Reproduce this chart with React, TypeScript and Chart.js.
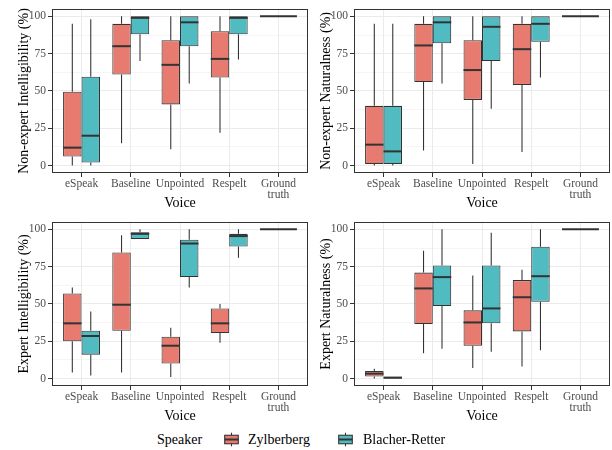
import React, { useEffect, useRef } from "react";
import { Chart, registerables } from "chart.js";

Chart.register(...registerables);

// ---------------- data ----------------
const categories: (string | string[])[] = ["eSpeak", "Baseline", "Unpointed", "Respelt", ["Ground", "truth"]];
const speakers = ["Zylberberg", "Blacher-Retter"];
const yTickValues = [0, 12.5, 25, 37.5, 50, 62.5, 75, 87.5, 100];
const yMajorTicks = [0, 25, 50, 75, 100];

// each entry: [min, q1, median, q3, max] for eSpeak, Baseline, Unpointed, Respelt
const nonExpertIntelZylberberg = [[0, 6, 12, 49.5, 95], [15, 61, 80, 95, 100], [11, 41, 67.5, 84, 100], [22, 59, 71.5, 90, 100]];
const nonExpertIntelBlacher = [[0, 2, 20, 59.5, 98], [70, 88, 99, 100, 100], [55, 80, 96, 100, 100], [71, 88, 99, 100, 100]];

const nonExpertNatZylberberg = [[0, 1, 14, 40, 95], [10, 56, 80.5, 95, 100], [1, 44, 64, 84, 100], [9, 54, 78, 95, 100]];
const nonExpertNatBlacher = [[0, 1, 9.5, 40, 95], [55, 82, 96, 100, 100], [38, 70, 93, 100, 100], [59, 83, 95, 100, 100]];

const expertIntelZylberberg = [[4, 25, 37, 57, 61], [4, 32, 49.5, 84.5, 96], [1, 10, 22, 28, 34], [24, 30.5, 37, 47, 50]];
const expertIntelBlacher = [[2, 16, 28.5, 32, 45], [93.5, 93.5, 97, 98, 100], [61, 68, 90.5, 93, 100], [81, 88.5, 95.5, 97, 100]];

const expertNatZylberberg = [[0, 1.3, 3.3, 5, 6.6], [17, 36.5, 60.4, 71, 85.7], [7, 22, 37.6, 45.7, 69], [8, 31.6, 54.5, 66, 73]];
const expertNatBlacher = [[0, 0, 0.5, 1.3, 1.3], [20, 48.6, 68, 75.8, 100], [18, 37, 47, 75.8, 97.8], [19, 51.4, 68.6, 88.4, 100]];

// Ground truth (single box, all at 100)
const groundTruth = [100, 100, 100, 100, 100];
const groundTruthIndex = 4;

// ---------------- styling ----------------
const FONT = "'Liberation Serif', 'Times New Roman', serif";
const FILL_Z = "#E77B70";
const FILL_B = "#50BCC2";
const DARK = "#333333";
const GRID = "#EBEBEB";
const TICK_TEXT = "#4D4D4D";

const boxPlugin = {
  id: "boxWhiskers",
  beforeDatasetsDraw(chart: any) {
    const ctx = chart.ctx;
    const y = chart.scales.y;
    ctx.save();
    ctx.strokeStyle = DARK;
    ctx.lineWidth = 1.07;
    chart.data.datasets.forEach((ds: any, di: number) => {
      const meta = chart.getDatasetMeta(di);
      meta.data.forEach((el: any, j: number) => {
        const s = ds.stats[j];
        if (!s) return;
        ctx.beginPath();
        ctx.moveTo(el.x, y.getPixelForValue(s[3]));
        ctx.lineTo(el.x, y.getPixelForValue(s[4]));
        ctx.moveTo(el.x, y.getPixelForValue(s[1]));
        ctx.lineTo(el.x, y.getPixelForValue(s[0]));
        ctx.stroke();
      });
    });
    ctx.restore();
  },
  afterDatasetsDraw(chart: any) {
    const ctx = chart.ctx;
    const y = chart.scales.y;
    ctx.save();
    ctx.strokeStyle = DARK;
    ctx.lineWidth = 2;
    chart.data.datasets.forEach((ds: any, di: number) => {
      const meta = chart.getDatasetMeta(di);
      meta.data.forEach((el: any, j: number) => {
        const s = ds.stats[j];
        if (!s) return;
        const py = y.getPixelForValue(s[2]);
        ctx.beginPath();
        ctx.moveTo(el.x - el.width / 2, py);
        ctx.lineTo(el.x + el.width / 2, py);
        ctx.stroke();
      });
    });
    const a = chart.chartArea;
    ctx.lineWidth = 1;
    ctx.strokeStyle = DARK;
    ctx.strokeRect(Math.round(a.left) + 0.5, Math.round(a.top) + 0.5, Math.round(a.right - a.left) - 1, Math.round(a.bottom - a.top) - 1);
    ctx.restore();
  },
};

function Panel(props: { title: string; z: number[][]; b: number[][]; left: number; top: number }) {
  const ref = useRef<HTMLCanvasElement>(null);
  useEffect(() => {
    if (!ref.current) return;
    const barOpts = { categoryPercentage: 0.75, barPercentage: 1, borderColor: DARK, borderWidth: 1.07, borderSkipped: false };
    const chart = new Chart(ref.current, {
      type: "bar",
      data: {
        datasets: [
          { label: speakers[0], data: props.z.map((s, i) => ({ x: i, y: [s[1], s[3]] })), stats: props.z, backgroundColor: FILL_Z, ...barOpts } as any,
          { label: speakers[1], data: props.b.map((s, i) => ({ x: i, y: [s[1], s[3]] })), stats: props.b, backgroundColor: FILL_B, ...barOpts } as any,
          {
            label: "Ground truth",
            data: [{ x: groundTruthIndex, y: [groundTruth[1], groundTruth[3]] }],
            stats: [groundTruth],
            backgroundColor: FILL_Z,
            grouped: false,
            ...barOpts,
          } as any,
        ],
      },
      options: {
        animation: false,
        responsive: false,
        maintainAspectRatio: false,
        layout: { padding: { top: 7, right: 2, left: 0, bottom: 0 } },
        plugins: { legend: { display: false }, tooltip: { enabled: false } },
        scales: {
          x: {
            type: "linear",
            min: -0.6,
            max: 4.6,
            offset: false,
            afterBuildTicks: (s: any) => {
              s.ticks = categories.map((_, i) => ({ value: i }));
            },
            afterFit: (s: any) => {
              s.height = 39;
            },
            ticks: {
              callback: (v: any) => categories[v as number] as any,
              color: TICK_TEXT,
              font: { family: FONT, size: 11.5, lineHeight: 0.95 },
              padding: 2,
              autoSkip: false,
              maxRotation: 0,
            },
            grid: { offset: false, color: GRID, lineWidth: 1, tickLength: 4, tickColor: DARK, drawTicks: true },
            border: { display: false },
            title: { display: true, text: "Voice", color: "#000", font: { family: FONT, size: 14 }, padding: { top: 0, bottom: 0.6 } },
          } as any,
          y: {
            min: -5,
            max: 105,
            afterBuildTicks: (s: any) => {
              s.ticks = yTickValues.map((v) => ({ value: v }));
            },
            afterFit: (s: any) => {
              s.width = 52;
            },
            ticks: {
              callback: (v: any) => (yMajorTicks.includes(v) ? String(v) : ""),
              color: TICK_TEXT,
              font: { family: FONT, size: 11.5 },
              padding: 2,
              autoSkip: false,
            },
            grid: {
              color: GRID,
              lineWidth: (c: any) => (c.tick && yMajorTicks.includes(c.tick.value) ? 1 : 0.5),
              tickLength: 4,
              tickColor: (c: any) => (c.tick && yMajorTicks.includes(c.tick.value) ? DARK : "rgba(0,0,0,0)"),
            },
            border: { display: false },
            title: { display: true, text: props.title, color: "#000", font: { family: FONT, size: 14 }, padding: { top: 15.6, bottom: 0 } },
          } as any,
        },
      },
      plugins: [boxPlugin],
    } as any);
    return () => chart.destroy();
  }, []);
  return <canvas ref={ref} width={310} height={212} style={{ position: "absolute", left: props.left, top: props.top, width: 310, height: 212 }} />;
}

function LegendKey(props: { fill: string; left: number }) {
  return (
    <svg width={17} height={17} style={{ position: "absolute", left: props.left, top: 431 }}>
      <line x1={8.5} x2={8.5} y1={1.7} y2={15.3} stroke={DARK} strokeWidth={1.07} />
      <rect x={1.7} y={4.25} width={13.6} height={8.5} fill={props.fill} stroke={DARK} strokeWidth={1.07} />
      <line x1={1.7} x2={15.3} y1={8.5} y2={8.5} stroke={DARK} strokeWidth={2} />
    </svg>
  );
}

export default function App() {
  const textStyle: React.CSSProperties = { position: "absolute", top: 431, height: 18, lineHeight: "18px", fontFamily: FONT, fontSize: 14, color: "#000", whiteSpace: "nowrap" };
  return (
    <div style={{ position: "fixed", left: 0, top: 0, width: 612, height: 450, background: "#fff" }}>
      <Panel title="Non-expert Intelligibility (%)" z={nonExpertIntelZylberberg} b={nonExpertIntelBlacher} left={0} top={0} />
      <Panel title="Non-expert Naturalness (%)" z={nonExpertNatZylberberg} b={nonExpertNatBlacher} left={302} top={0} />
      <Panel title="Expert Intelligibility (%)" z={expertIntelZylberberg} b={expertIntelBlacher} left={0} top={213} />
      <Panel title="Expert Naturalness (%)" z={expertNatZylberberg} b={expertNatBlacher} left={302} top={213} />
      <div style={{ ...textStyle, left: 157 }}>Speaker</div>
      <LegendKey fill={FILL_Z} left={223} />
      <div style={{ ...textStyle, left: 248 }}>{speakers[0]}</div>
      <LegendKey fill={FILL_B} left={337} />
      <div style={{ ...textStyle, left: 363 }}>{speakers[1]}</div>
    </div>
  );
}
